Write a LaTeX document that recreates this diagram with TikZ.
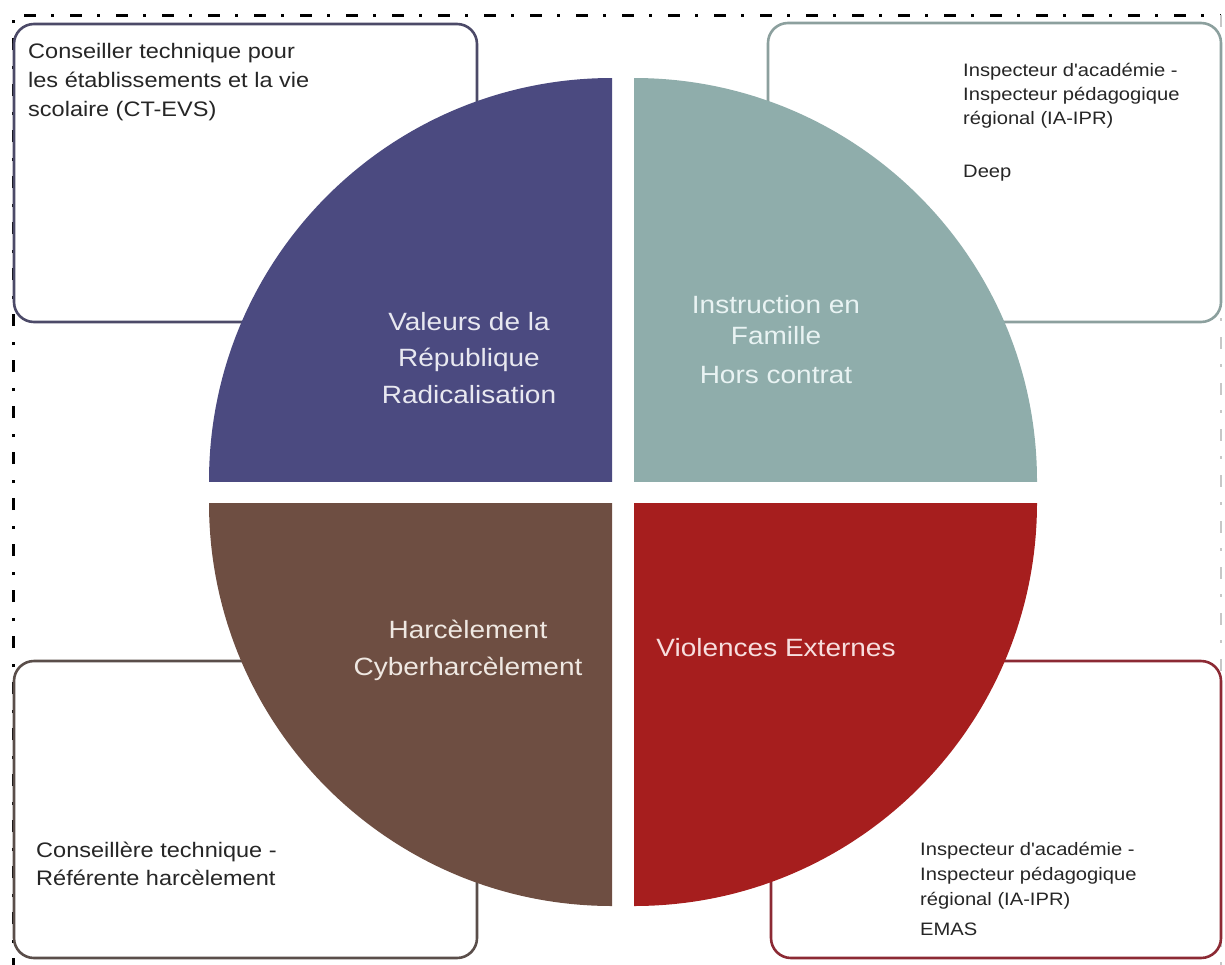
\documentclass[tikz,border=0pt]{standalone}
\usepackage{fontspec}
\setmainfont{Liberation Sans}[FakeStretch=1.12,Ligatures=TeXOff]
\definecolor{qtl}{HTML}{4B4A80}
\definecolor{qtr}{HTML}{8FADAB}
\definecolor{qbl}{HTML}{6E4E42}
\definecolor{qbr}{HTML}{A61E1E}
\definecolor{btl}{HTML}{4C4A68}
\definecolor{btr}{HTML}{8CA09E}
\definecolor{bbl}{HTML}{5A4E4A}
\definecolor{bbr}{HTML}{8C2A34}
\definecolor{ttl}{HTML}{E8E8F0}
\definecolor{ttr}{HTML}{E9F3F3}
\definecolor{tbl}{HTML}{EFE8E2}
\definecolor{tbr}{HTML}{F7DEDE}
\definecolor{txt}{HTML}{262626}
\begin{document}
\begin{tikzpicture}[x=1pt,y=-1pt,
  frameline/.style={line width=3pt,dash pattern=on 12pt off 15pt on 3pt off 16pt},
  rolebox/.style={rounded corners=20pt,line width=2.6pt,fill=white},
  quadlabel/.style={inner sep=0pt,anchor=north,align=center,font=\fontsize{25}{36.5}\selectfont},
  roletext/.style={inner sep=0pt,anchor=north west,align=left,text=txt}]
\useasboundingbox (0,0) rectangle (1225,964);
% frame
\coordinate (fbl) at (13,970);
\coordinate (ftl) at (13,15);
\coordinate (ftr) at (1221,15);
\coordinate (fbr) at (1221,970);
\draw[frameline,black] (fbl) -- (ftl) -- (ftr);
\draw[frameline,line width=1.2pt,black!22] (ftr) -- (fbr);
% role boxes
\draw[rolebox,draw=btl] (14,24) rectangle (477,322);
\draw[rolebox,draw=btr] (768,23) rectangle (1221,322);
\draw[rolebox,draw=bbl] (14,661) rectangle (477,958);
\draw[rolebox,draw=bbr] (771,661) rectangle (1221,958);
% quadrants
\begin{scope}\clip (612,481) rectangle (150,40);
\fill[qtl] (612,481) circle[radius=403];\end{scope}
\begin{scope}\clip (634,481) rectangle (1100,40);
\fill[qtr] (634,481) circle[radius=403];\end{scope}
\begin{scope}\clip (612,503) rectangle (150,940);
\fill[qbl] (612,503) circle[radius=403];\end{scope}
\begin{scope}\clip (634,503) rectangle (1100,940);
\fill[qbr] (634,503) circle[radius=403];\end{scope}
% quadrant labels
\node[quadlabel,text=ttl] (ltl) at (469,312) {Valeurs de la\\République\\Radicalisation};
\node[quadlabel,text=ttr,font=\fontsize{25}{31}\selectfont] (ltr) at (776,295) {Instruction en\\Famille\\[8pt]Hors contrat};
\node[quadlabel,text=tbl] (lbl) at (468,620) {Harcèlement\\Cyberharcèlement};
\node[quadlabel,text=tbr] (lbr) at (776,638) {Violences Externes};
% role texts
\node[roletext,font=\fontsize{21}{29}\selectfont] (rtl) at (28,43) {Conseiller technique pour\\les établissements et la vie\\scolaire (CT-EVS)};
\node[roletext,font=\fontsize{18}{24}\selectfont] (rtr) at (963,63) {Inspecteur d'académie -\\Inspecteur pédagogique\\régional (IA-IPR)\\[29pt]Deep};
\node[roletext,font=\fontsize{21}{28}\selectfont] (rbl) at (36,842) {Conseillère technique -\\Référente harcèlement};
\node[roletext,font=\fontsize{18}{25}\selectfont] (rbr) at (920,842) {Inspecteur d'académie -\\Inspecteur pédagogique\\régional (IA-IPR)\\[5pt]EMAS};
\end{tikzpicture}
\end{document}
